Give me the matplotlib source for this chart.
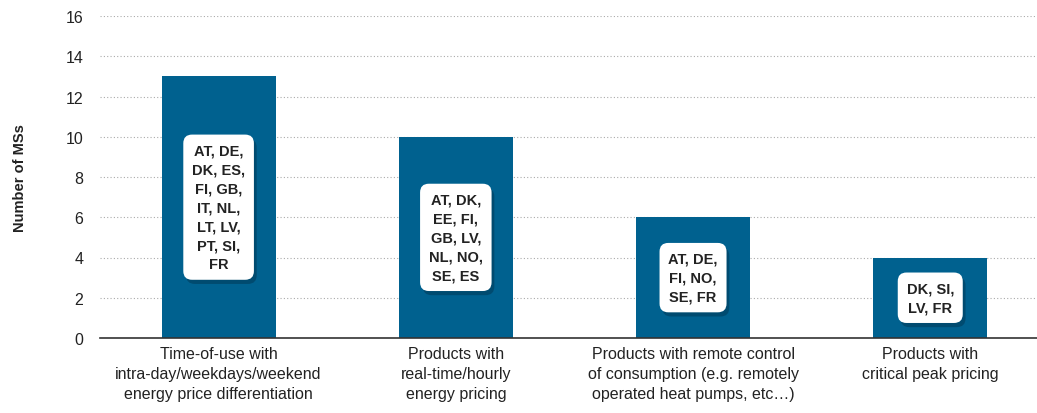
import matplotlib.pyplot as plt
import matplotlib.patheffects as pe

categories = ['Time-of-use with\nintra-day/weekdays/weekend\nenergy price differentiation',
              'Products with\nreal-time/hourly\nenergy pricing',
              'Products with remote control\nof consumption (e.g. remotely\noperated heat pumps, etc…)',
              'Products with\ncritical peak pricing']
values = [13, 10, 6, 4]
countries = ['AT, DE,\nDK, ES,\nFI, GB,\nIT, NL,\nLT, LV,\nPT, SI,\nFR',
             'AT, DK,\nEE, FI,\nGB, LV,\nNL, NO,\nSE, ES',
             'AT, DE,\nFI, NO,\nSE, FR',
             'DK, SI,\nLV, FR']
yticks = [0, 2, 4, 6, 8, 10, 12, 14, 16]

plt.rcParams['font.family'] = ['Liberation Sans Narrow', 'Liberation Sans', 'DejaVu Sans']

fig = plt.figure(figsize=(10.37, 4.14), dpi=100)
ax = fig.add_axes([100 / 1037, 75 / 414, 937 / 1037, 322 / 414])

x = list(range(len(values)))
ax.bar(x, values, width=0.48, color='#00618f', zorder=3)

for xi, v, c in zip(x, values, countries):
    t = ax.text(xi, v / 2, c, ha='center', va='center', fontsize=10.5,
                fontweight='bold', color='#222222', linespacing=1.45, zorder=5,
                bbox=dict(boxstyle='round,pad=0.6,rounding_size=0.6',
                          facecolor='white', edgecolor='none'))
    t.get_bbox_patch().set_path_effects([
        pe.SimplePatchShadow(offset=(2, -3), shadow_rgbFace='#001a2a', alpha=0.3),
        pe.Normal()])

ax.set_xlim(-0.5, 3.45)
ax.set_ylim(0, 16)
ax.set_yticks(yticks)
ax.set_xticks(x)
ax.set_xticklabels(categories, fontsize=11.5, color='#222222', linespacing=1.4)
ax.tick_params(axis='y', length=0, labelsize=11.5, labelcolor='#222222', pad=12)
ax.tick_params(axis='x', length=0, pad=6)

ax.grid(axis='y', linestyle=(0, (1, 2)), color='#aaaaaa', linewidth=0.8, zorder=0)
for s in ['top', 'right', 'left']:
    ax.spines[s].set_visible(False)
ax.spines['bottom'].set_color('#333333')
ax.spines['bottom'].set_linewidth(1.2)
ax.spines['bottom'].set_zorder(4)

fig.text(20 / 1037, 0.57, 'Number of MSs', rotation=90, ha='center', va='center',
         fontsize=10.5, fontweight='bold', color='#222222')

fig.savefig('out.png', dpi=100)
